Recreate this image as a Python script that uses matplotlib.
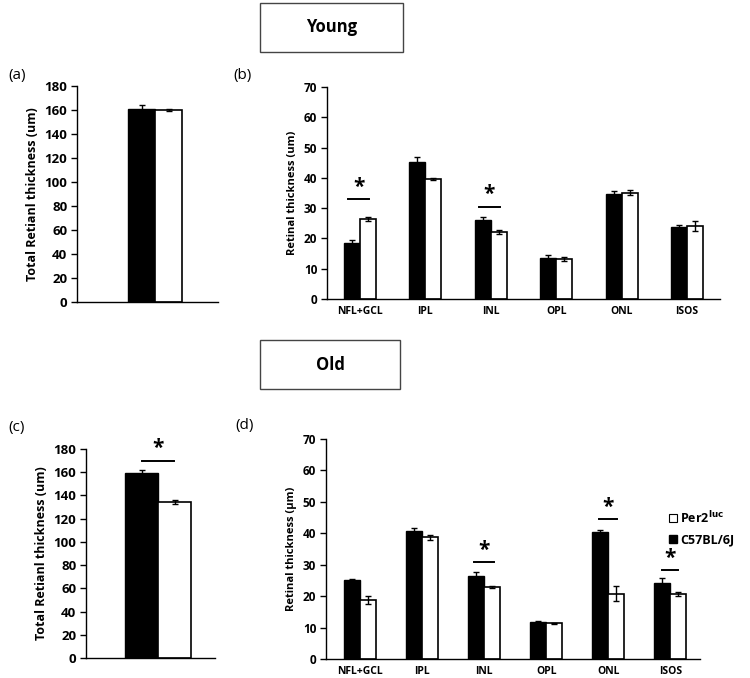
import matplotlib
matplotlib.use("Agg")
import numpy as np
import matplotlib.pyplot as plt
from matplotlib.patches import Patch

plt.rcParams['font.family'] = ['Open Sans', 'DejaVu Sans']
plt.rcParams['font.weight'] = 'bold'

layers = ['NFL+GCL', 'IPL', 'INL', 'OPL', 'ONL', 'ISOS']

# total retinal thickness: [C57BL/6J, Per2luc]
young_total = [161, 160]
young_total_err = [3, 0.6]
old_total = [159, 134.5]
old_total_err = [3.2, 2]

# layer thickness, young
young_c57 = [18.5, 45.3, 26.2, 13.6, 34.7, 23.7]
young_c57_err = [1.0, 1.7, 0.9, 0.8, 0.8, 0.8]
young_per2 = [26.5, 39.6, 22.0, 13.1, 35.1, 24.1]
young_per2_err = [0.6, 0.2, 0.7, 0.7, 0.8, 1.7]

# layer thickness, old
old_c57 = [25.0, 40.8, 26.4, 11.9, 40.4, 24.2]
old_c57_err = [0.4, 0.8, 1.2, 0.3, 0.8, 1.7]
old_per2 = [18.7, 38.7, 22.8, 11.3, 20.8, 20.7]
old_per2_err = [1.2, 0.9, 0.3, 0.3, 2.5, 0.7]

# significance bars: (category index, line height)
young_sig = [(0, 33.0), (2, 30.5)]
old_sig = [(2, 30.8), (4, 44.5), (5, 28.3)]
old_total_sig = 169.5

W = 7.5
H = 6.78


def fig_rect(x0, x1, ytop, ybot):
    return [x0 / 750, 1 - ybot / 678, (x1 - x0) / 750, (ybot - ytop) / 678]


def style_axes(ax, ylim, ystep, ylabel, fs_tick, fs_xtick, fs_label):
    ax.set_ylim(*ylim)
    ax.set_yticks(np.arange(ylim[0], ylim[1] + 1, ystep))
    for s in ['top', 'right']:
        ax.spines[s].set_visible(False)
    ax.spines['left'].set_linewidth(1.0)
    ax.spines['bottom'].set_linewidth(1.0)
    ax.tick_params(axis='y', direction='out', length=4, width=1, labelsize=fs_tick, pad=3)
    ax.tick_params(axis='x', length=0, labelsize=fs_xtick, pad=5)
    ax.set_ylabel(ylabel, fontsize=fs_label, fontweight='bold', labelpad=4)


def bar_pair(ax, xpos, black, black_err, white, white_err, width):
    ekw = dict(ecolor='black', capsize=2.5, elinewidth=1, capthick=1)
    ax.bar(xpos - width / 2, black, width, yerr=black_err, color='black',
           edgecolor='black', linewidth=1, error_kw=ekw, zorder=2)
    ax.bar(xpos + width / 2, white, width, yerr=white_err, color='white',
           edgecolor='black', linewidth=1.2, error_kw=ekw, zorder=2)


def sig(ax, x, y, width, star_off):
    ax.plot([x - width / 2, x + width / 2], [y, y], color='black', lw=1.4)
    ax.text(x, y + star_off, '*', ha='center', va='bottom', fontsize=15,
            fontweight='bold')


fig = plt.figure(figsize=(W, H), dpi=100)

# (a) young total
ax_a = fig.add_axes(fig_rect(77, 218, 86, 302))
bar_pair(ax_a, np.array([0.0]), [young_total[0]], [young_total_err[0]],
         [young_total[1]], [young_total_err[1]], 0.4)
ax_a.set_xlim(-1.156, 0.933)
ax_a.set_xticks([])
style_axes(ax_a, (0, 180), 20, 'Total Retianl thickness (um)', 9.5, 8, 9)

# (b) young layers
ax_b = fig.add_axes(fig_rect(327, 720, 87, 299))
xb = np.arange(len(layers))
bar_pair(ax_b, xb, young_c57, young_c57_err, young_per2, young_per2_err, 0.245)
ax_b.set_xlim(-0.505, 5.505)
ax_b.set_xticks(xb)
ax_b.set_xticklabels(layers)
style_axes(ax_b, (0, 70), 10, 'Retinal thickness (um)', 8.5, 7.5, 8)
for i, y in young_sig:
    sig(ax_b, xb[i] - 0.02, y, 0.32, 0.4)

# (c) old total
ax_c = fig.add_axes(fig_rect(86, 215, 449, 658))
bar_pair(ax_c, np.array([0.0]), [old_total[0]], [old_total_err[0]],
         [old_total[1]], [old_total_err[1]], 0.4)
ax_c.set_xlim(-0.873, 0.69)
ax_c.set_xticks([])
style_axes(ax_c, (0, 180), 20, 'Total Retianl thickness (um)', 9.5, 8, 9)
sig(ax_c, 0.0, old_total_sig, 0.39, 2)

# (d) old layers
ax_d = fig.add_axes(fig_rect(326, 700, 439, 659))
xd = np.arange(len(layers))
bar_pair(ax_d, xd, old_c57, old_c57_err, old_per2, old_per2_err, 0.26)
ax_d.set_xlim(-0.548, 5.48)
ax_d.set_xticks(xd)
ax_d.set_xticklabels(layers)
style_axes(ax_d, (0, 70), 10, 'Retinal thickness (\u00b5m)', 8.5, 7.5, 8)
for (i, y), wd in zip(old_sig, [0.33, 0.29, 0.25]):
    sig(ax_d, xd[i], y, wd, 0.4)

handles = [Patch(facecolor='white', edgecolor='black', linewidth=0.8),
           Patch(facecolor='black', edgecolor='black')]
fig.legend(handles, ['Per2$^{\\mathbf{luc}}$', 'C57BL/6J'],
           loc='center left', bbox_to_anchor=(664 / 750, 1 - 528 / 678),
           frameon=False, prop=dict(weight='bold', size=9),
           handlelength=0.6, handleheight=0.6, handletextpad=0.3,
           labelspacing=0.6, borderaxespad=0)

# panel letters
for txt, x, y in [('(a)', 8, 75), ('(b)', 233, 75), ('(c)', 8, 428), ('(d)', 235, 425)]:
    fig.text(x / 750, 1 - y / 678, txt, fontsize=11, fontweight='normal',
             ha='left', va='center')

# group title boxes
for txt, x0, x1, y0, y1 in [('Young', 260, 403, 3, 52), ('Old', 260, 400, 340, 389)]:
    fig.patches.append(plt.Rectangle((x0 / 750, 1 - y1 / 678), (x1 - x0) / 750,
                                     (y1 - y0) / 678, transform=fig.transFigure,
                                     fill=False, edgecolor='#444444', linewidth=1))
    fig.text((x0 + x1) / 2 / 750, 1 - (y0 + y1) / 2 / 678, txt, fontsize=12,
             fontweight='bold', ha='center', va='center')

fig.savefig('out.png', dpi=100)
